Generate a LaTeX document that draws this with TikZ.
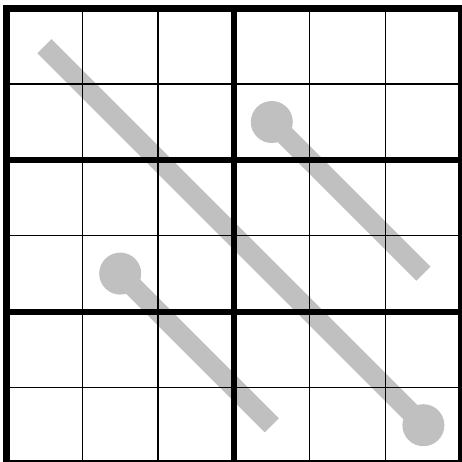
\documentclass[tikz,border=0pt]{standalone}
\usetikzlibrary{calc}
\definecolor{silverline}{RGB}{192,192,192}
\tikzset{
  thinline/.style={line width=1.3pt, draw=black},
  thickline/.style={line width=6pt, draw=black},
  borderline/.style={line width=6.5pt, draw=black},
  pathline/.style={line width=20pt, draw=silverline, line cap=butt},
  dotend/.style={fill=silverline}
}
\begin{document}
\begin{tikzpicture}[x=1pt,y=-1pt]
\useasboundingbox (0,0) rectangle (462,462);
\clip (0,0) rectangle (462,462);
\def\xo{6.5}
\def\yo{8.3}
\def\cw{75.8}
% cell centre coordinates
\foreach \i in {0,...,5}{
  \foreach \j in {0,...,5}{
    \coordinate (c\i\j) at ({\xo+\cw*(\i+0.5)},{\yo+\cw*(\j+0.5)});
  }
}
% grey paths
\draw[pathline] (c00) -- (c55);
\fill[dotend] (c55) circle (21);
\draw[pathline] (c31) -- (c53);
\fill[dotend] (c31) circle (21);
\draw[pathline] (c13) -- (c35);
\fill[dotend] (c13) circle (21);
% thin grid
\foreach \k in {1,2,4,5}{
  \draw[thinline] ({\xo+\cw*\k},\yo) -- ({\xo+\cw*\k},{\yo+6*\cw});
}
\foreach \k in {1,3,5}{
  \draw[thinline] (\xo,{\yo+\cw*\k}) -- ({\xo+6*\cw},{\yo+\cw*\k});
}
% thick grid
\draw[thickline] ({\xo+\cw*3},\yo) -- ({\xo+\cw*3},{\yo+6*\cw});
\foreach \k in {2,4}{
  \draw[thickline] (\xo,{\yo+\cw*\k}) -- ({\xo+6*\cw},{\yo+\cw*\k});
}
\draw[borderline] (\xo,\yo) rectangle ({\xo+6*\cw},{\yo+6*\cw});
\end{tikzpicture}
\end{document}
